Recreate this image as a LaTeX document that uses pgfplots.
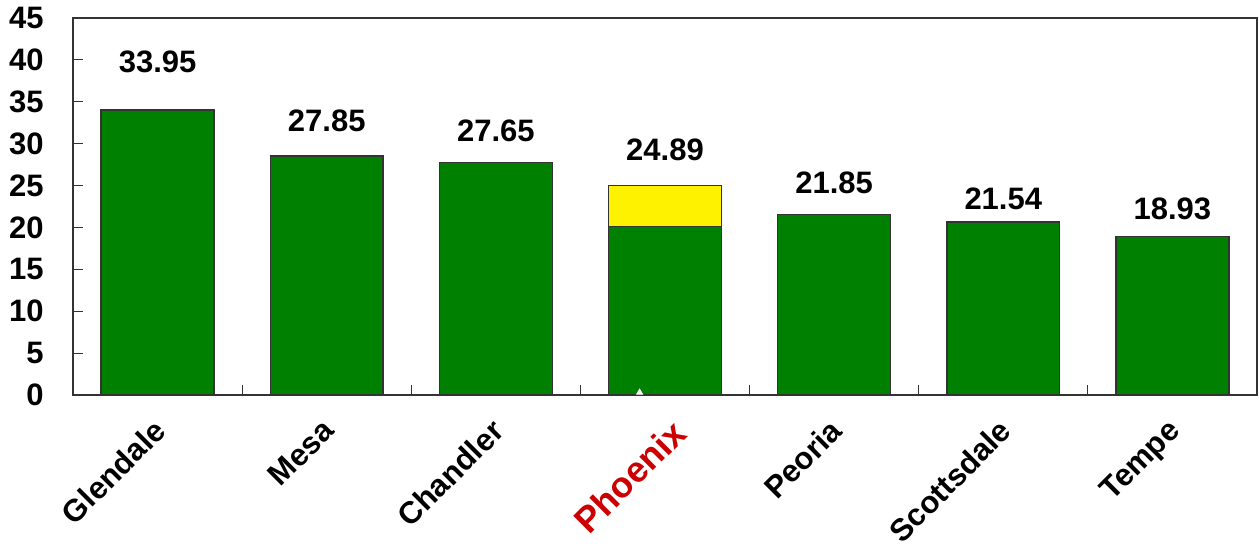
\documentclass[border=0pt]{standalone}
\usepackage{fontspec}
\setmainfont{Liberation Sans}
\usepackage{pgfplots}
\usepackage{pgfplotstable}
\pgfplotsset{compat=1.18}
\definecolor{bargreen}{RGB}{0,128,0}
\definecolor{phxred}{RGB}{204,0,0}

% bar heights as drawn
\pgfplotstableread{
x h
0 34.02
1 28.53
2 27.73
3 20.09
4 21.57
5 20.68
6 18.89
}\bars

% value labels (y = where the label sits)
\pgfplotstableread{
x y lbl
0 39.75 33.95
1 32.70 27.85
2 31.51 27.65
3 29.24 24.89
4 25.30 21.85
5 23.39 21.54
6 22.20 18.93
}\labels

\newcommand{\lblfont}{\bfseries\fontsize{15.5}{18}\selectfont}

\begin{document}
\begin{tikzpicture}
\begin{axis}[
  width=592pt, height=188.5pt, scale only axis,
  xmin=-0.5, xmax=6.5, ymin=0, ymax=45,
  ytick={0,5,...,45},
  xtick={0,1,2,4,5,6},
  xticklabels={Glendale,Mesa,Chandler,Peoria,Scottsdale,Tempe},
  extra x ticks={3},
  extra x tick labels={\textcolor{phxred}{Phoenix}},
  extra x tick style={
    every x tick label/.style={xshift=2.5pt, yshift=-11pt, rotate=45,
      anchor=north east, inner sep=0pt, font=\bfseries\fontsize{18}{20}\selectfont}},
  minor xtick={0.5,1.5,...,5.5},
  major x tick style={draw=none},
  tick align=inside, xtick pos=bottom, ytick pos=left,
  major tick length=5pt, minor tick length=5pt,
  tick style={black!80, line width=0.6pt},
  axis line style={black!80, line width=0.9pt},
  ticklabel style={font=\lblfont},
  /pgf/number format/assume math mode=true,
  yticklabel style={anchor=east, inner sep=0pt, xshift=-14.5pt},
  xticklabel style={xshift=-3pt, yshift=-11pt, rotate=45, anchor=north east, inner sep=0pt},
]
\addplot[ybar, bar width=0.667, bar shift=0pt, fill=yellow, draw=black!80, line width=0.75pt]
  coordinates {(3,24.98)};
\addplot[ybar, bar width=0.667, bar shift=0pt, fill=bargreen, draw=black!80, line width=0.75pt]
  table[x=x, y=h] {\bars};
\addplot[only marks, mark=triangle*, mark size=1.7pt, white] coordinates {(2.85,0.3)};
\addplot[draw=none, nodes near coords, point meta=explicit symbolic,
  every node near coord/.append style={anchor=center, font=\lblfont, inner sep=0pt}]
  table[x=x, y=y, meta=lbl] {\labels};
\end{axis}
% page frame as in the reference (labels at the bottom run to the edge)
\pgfresetboundingbox
\path[use as bounding box] ([shift={(-36.5pt,-75.5pt)}]current axis.south west)
  rectangle ([shift={(1pt,9pt)}]current axis.north east);
\end{tikzpicture}
\end{document}
